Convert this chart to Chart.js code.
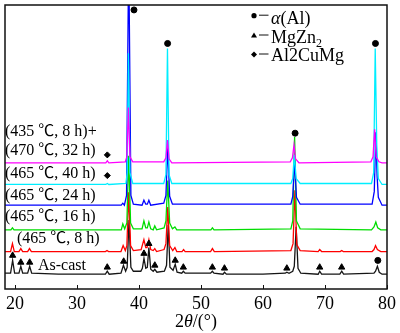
<!DOCTYPE html>
<html>
<head>
<meta charset="utf-8">
<script src="https://cdn.jsdelivr.net/npm/chart.js@4.4.1/dist/chart.umd.min.js"></script>
<style>
  html, body { margin: 0; padding: 0; background: #fff; }
  #wrap { position: relative; width: 400px; height: 333px; }
</style>
</head>
<body>
<div id="wrap"><canvas id="xrd"></canvas></div>
<script>
// 2θ (deg) vs intensity (a.u., relative to each pattern's own baseline)
const asCast = [[18.4,1],[19.3,1],[19.63,14],[19.95,1],[20.65,1],[20.95,8],[21.25,1],[22.05,1],[22.38,8],[22.7,1],[27,0],
  [34.6,0],[34.89,3],[35.2,0],[37.1,1],[37.5,9],[37.85,3],[38.1,7],[38.4,55],[38.7,7],[39.1,3],[40.3,3],[40.55,6],
  [40.81,16],[41.1,6],[41.35,7],[41.6,27],[41.9,5],[42.3,3],[42.56,5],[42.9,2],[44.1,3],[44.45,9],[44.72,50],[45.0,7],
  [45.5,4],[45.85,10],[46.15,2],[46.9,1],[47.16,3],[47.45,1],[51.55,1],[51.84,3],[52.1,1],[53.55,0],[53.8,2],[54.1,0],
  [60,0],[63.6,1],[63.85,2],[64.2,1],[64.8,3],[65.05,8],[65.35,48],[65.65,6],[66.1,1],[68.9,0],[69.15,3],[69.45,0],
  [72.4,0],[72.7,3],[73.0,0],[77.9,1],[78.15,3],[78.45,8],[78.75,2],[79.2,0],[80,0]];
const h465_8 = [[18.4,0],[19.3,0],[19.6,8],[19.9,0],[20.65,0],[20.95,3],[21.25,0],[22.05,0],[22.35,3],[22.65,0],
  [34.6,0],[34.85,1],[35.1,0],[37.1,0],[37.45,6],[37.8,1],[38.05,6],[38.35,60],[38.65,6],[39.1,1],[40.35,2],[40.8,12],
  [41.1,4],[41.3,4],[41.6,12],[41.9,2],[42.3,1],[42.55,3],[42.85,0],[44.05,2],[44.35,8],[44.65,45],[44.95,6],[45.45,1],
  [45.8,4],[46.1,0],[46.95,0],[47.2,2],[47.45,0],[51.55,0],[51.85,3],[52.15,0],[64.5,1],[64.85,8],[65.15,62],[65.45,7],
  [66.0,1],[68.9,0],[69.15,2],[69.45,0],[72.45,0],[72.7,1],[72.95,0],[77.6,0],[77.9,2],[78.15,6],[78.45,2],[79,0],[80,0]];
const h465_16 = [[18.4,0],[19.35,0],[19.6,2],[19.85,0],[37.15,0],[37.4,6],[37.7,1],[38.05,7],[38.35,75],[38.65,7],
  [39.1,1],[40.5,1],[40.8,9],[41.1,2],[41.35,2],[41.6,8],[41.9,1],[42.3,0],[42.55,4],[42.85,0],[44.05,2],[44.35,9],
  [44.65,50],[44.95,7],[45.4,1],[45.8,3],[46.1,0],[51.6,0],[51.85,2],[52.1,0],[64.5,1],[64.8,9],[65.1,94],[65.4,9],
  [66.0,1],[77.5,0],[77.9,3],[78.2,8],[78.5,2],[79,0],[80,0]];
const h465_24 = [[18.4,0],[37.15,0],[37.4,2],[37.65,0],[38.0,10],[38.35,260],[38.7,10],[39.1,1],[40.5,0],[40.8,5],
  [41.1,1],[41.35,1],[41.6,5],[41.9,0],[44.0,2],[44.35,10],[44.65,60],[44.95,9],[45.4,1],[64.5,1],[64.8,9],[65.1,45],
  [65.4,8],[66.0,1],[77.6,1],[77.95,14],[78.2,74],[78.4,30],[78.6,8],[79.2,0],[80,0]];
const h465_40 = [[18.4,0],[34.65,0],[34.9,1],[35.15,0],[37.9,1],[38.1,12],[38.3,133],[38.55,12],[39.0,1],[44.0,1],
  [44.35,10],[44.6,138],[44.85,10],[45.3,1],[64.5,1],[64.8,6],[65.05,30],[65.35,6],[66.0,1],[77.5,1],[77.85,12],
  [78.1,138],[78.35,40],[78.6,6],[79.2,0],[80,0]];
const h435_470 = [[18.4,0],[34.65,0],[34.9,2],[35.15,0],[37.8,1],[38.05,6],[38.3,56],[38.55,6],[39.0,1],[44.0,1],
  [44.35,5],[44.6,23],[44.85,4],[45.3,0],[64.4,1],[64.75,5],[65.0,18],[65.25,4],[65.8,0],[77.4,1],[77.75,6],[78.0,34],
  [78.25,6],[78.7,1],[79.2,0],[80,0]];

// vertical stacking offset of each pattern (a.u.)
const baselines = [15, 38, 60, 85, 106, 128];

// phase marks: [2θ, a.u.]
const alMarks = [[39.2,283],[44.62,249],[65.18,158],[78.14,249],[78.52,29]];
const mgZn2Marks = [[19.63,34],[20.95,27],[22.38,27],[34.89,22],[37.54,28],[40.81,36],[41.6,46],[42.56,24],[45.85,29],
  [47.16,22],[51.84,22],[53.79,21],[63.85,21],[69.15,22],[72.69,22]];
const al2CuMgMarks = [[34.9,136],[34.9,115]];

const xTicks = [20, 30, 40, 50, 60, 70, 80];
const sampleLabels = ['As-cast', '(465 \u2103, 8 h)', '(465 \u2103, 16 h)', '(465 \u2103, 24 h)', '(465 \u2103, 40 h)',
  '(435 \u2103, 8 h)+', '(470 \u2103, 32 h)'];
const phaseNames = ['(Al)', 'MgZn', 'Al2CuMg'];

const SERIF = "'Liberation Serif', 'Times New Roman', 'Noto Sans CJK SC', serif";
const seriesList = [asCast, h465_8, h465_16, h465_24, h465_40, h435_470];
const seriesColors = ['#151515', '#ff0000', '#00dd00', '#0000ff', '#00eeff', '#ff00ff'];

const traceSets = seriesList.map((s, i) => ({
  data: s.map(([x, y]) => ({ x, y: y + baselines[i] })),
  borderColor: seriesColors[i],
  borderWidth: 1.3,
  pointRadius: 0,
  tension: 0,
  order: 10 - i,
}));

const markSet = (pts, style, r) => ({
  data: pts.map(([x, y]) => ({ x, y })),
  showLine: false,
  pointStyle: style,
  pointRadius: r,
  pointBackgroundColor: '#000',
  pointBorderColor: '#000',
  pointBorderWidth: 1,
  order: -1,
});

// frame, inward ticks, sample labels, phase legend, axis title
const decor = {
  id: 'decor',
  afterDraw(chart) {
    const { ctx, chartArea: a, scales: { x } } = chart;
    ctx.save();
    ctx.strokeStyle = '#111';
    ctx.lineWidth = 1.5;
    ctx.strokeRect(a.left, a.top, a.right - a.left, a.bottom - a.top);
    ctx.lineWidth = 1;
    for (const v of xTicks) {
      const px = Math.round(x.getPixelForValue(v)) + 0.5;
      ctx.beginPath();
      ctx.moveTo(px, a.bottom);
      ctx.lineTo(px, a.bottom - 4);
      ctx.stroke();
    }

    ctx.fillStyle = '#000';
    ctx.textBaseline = 'middle';
    ctx.font = '16px ' + SERIF;
    const labelPos = [[38, 266], [17, 239], [5, 217], [5, 196], [5, 174], [5, 132], [5, 151]];
    sampleLabels.forEach((t, i) => ctx.fillText(t, labelPos[i][0], labelPos[i][1]));

    // legend
    const rows = [24, 42.5, 61];
    const mk = [15.7, 35.5, 54.5];
    ctx.textBaseline = 'alphabetic';
    rows.forEach((by, i) => {
      const my = mk[i];
      ctx.beginPath();
      if (i === 0) ctx.arc(254, my, 2.6, 0, Math.PI * 2);
      if (i === 1) { ctx.moveTo(254, my - 3); ctx.lineTo(257, my + 2); ctx.lineTo(251, my + 2); ctx.closePath(); }
      if (i === 2) { ctx.moveTo(254, my - 3); ctx.lineTo(257, my); ctx.lineTo(254, my + 3); ctx.lineTo(251, my); ctx.closePath(); }
      ctx.fill();
      ctx.beginPath();
      ctx.moveTo(259, my - 0.5);
      ctx.lineTo(268.5, my - 0.5);
      ctx.stroke();
      let tx = 271;
      if (i === 0) {
        ctx.font = 'italic 18px ' + SERIF;
        ctx.fillText('\u03b1', tx, by);
        tx += ctx.measureText('\u03b1').width;
      }
      ctx.font = '18px ' + SERIF;
      ctx.fillText(phaseNames[i], tx, by);
      if (i === 1) {
        tx += ctx.measureText(phaseNames[i]).width;
        ctx.font = '12px ' + SERIF;
        ctx.fillText('2', tx, by + 4);
      }
    });

    // axis title 2θ/(°)
    const parts = [['2', ''], ['\u03b8', 'italic '], ['/(\u00b0)', '']];
    let w = 0;
    for (const [t, st] of parts) { ctx.font = st + '18px ' + SERIF; w += ctx.measureText(t).width; }
    let tx = (a.left + a.right) / 2 - w / 2;
    ctx.textBaseline = 'middle';
    for (const [t, st] of parts) {
      ctx.font = st + '18px ' + SERIF;
      ctx.fillText(t, tx, 322);
      tx += ctx.measureText(t).width;
    }
    ctx.restore();
  },
};

new Chart(document.getElementById('xrd'), {
  type: 'line',
  data: {
    datasets: [
      ...traceSets,
      markSet(alMarks, 'circle', 3),
      markSet(mgZn2Marks, 'triangle', 3.6),
      markSet(al2CuMgMarks, 'rectRot', 3),
    ],
  },
  options: {
    responsive: true,
    maintainAspectRatio: false,
    animation: false,
    events: [],
    layout: { padding: { left: 2, right: 10, top: 1, bottom: 0 } },
    plugins: { legend: { display: false }, tooltip: { enabled: false } },
    scales: {
      x: {
        type: 'linear',
        min: 18.4,
        max: 80,
        afterBuildTicks: s => { s.ticks = xTicks.map(v => ({ value: v })); },
        afterFit: s => { s.height = 44; },
        grid: { display: false, drawTicks: false },
        border: { display: false },
        ticks: {
          autoSkip: false,
          maxRotation: 0,
          padding: 4,
          color: '#000',
          font: { family: SERIF, size: 18 },
        },
      },
      y: { display: false, min: 0, max: 288 },
    },
  },
  plugins: [decor],
});
</script>
</body>
</html>
